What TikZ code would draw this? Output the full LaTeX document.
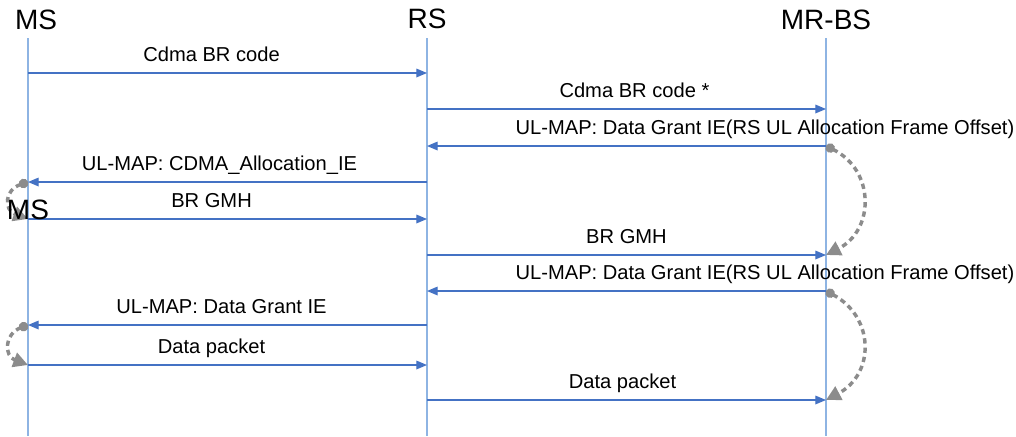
\documentclass[tikz,border=0pt]{standalone}
\usepackage{fontspec}
\setmainfont{Liberation Sans}
\usetikzlibrary{arrows.meta,positioning}
\definecolor{lifeblue}{RGB}{142,180,227}
\definecolor{msgblue}{RGB}{68,114,196}
\definecolor{hopgray}{RGB}{140,140,140}

\begin{document}
\begin{tikzpicture}[x=0.75pt,y=-0.75pt,
  font=\fontsize{15.1}{18}\selectfont,
  life/.style={lifeblue,line width=1pt},
  msg/.style={msgblue,line width=0.9pt,-{Triangle[length=8pt,width=6.5pt]}},
  lbl/.style={anchor=base,yshift=9pt,inner sep=0pt,text=black},
  hop/.style={hopgray,line width=2.6pt,dash pattern=on 4pt off 3pt,
    {Circle[length=7pt]}-{Triangle[length=11pt,width=11pt]}},
  head/.style={font=\fontsize{21}{24}\selectfont,inner sep=0pt}]
    \useasboundingbox (0,0) rectangle (1016,436);

    % Entities
    \node[head] (ms) at (36,20) {MS};
    \node[head] (rs) at (427,19) {RS};
    \node[head] (bs) at (826,20) {MR-BS};

    % Lifelines and message points
    \foreach \n/\x in {ms/28,rs/427,bs/826}{
      \coordinate (\n top) at (\x,38);
      \coordinate (\n bot) at (\x,436);
      \draw[life] (\n top) -- (\n bot);
      \foreach \i/\y in {1/73,2/109,3/146,4/182,5/219,6/255,7/291,8/325,9/365,10/400}
        \coordinate (\n\i) at (\x,\y);
    }

    % Relay delays
    \draw[hop] (bs3) .. controls +(49,24) and +(49,-25) .. (bs6);
    \draw[hop] (bs7) .. controls +(49,26) and +(49,-26) .. (bs10);
    \draw[hop] (ms4) .. controls +(-24,8) and +(-24,-9) .. (ms5);
    \draw[hop] (ms8) .. controls +(-24,9) and +(-24,-9) .. (ms9);

    % Messages
    \draw[msg] (ms1) -- (rs1) node[lbl,pos=.46] {Cdma BR code};
    \draw[msg] (rs2) -- (bs2) node[lbl,pos=.52] {Cdma BR code *};
    \draw[msg] (bs3) -- (rs3) node[lbl,pos=.153] {UL-MAP: Data Grant IE(RS UL Allocation Frame Offset)};
    \draw[msg] (rs4) -- (ms4) node[lbl,pos=.52] {UL-MAP: CDMA\_Allocation\_IE};
    \draw[msg] (ms5) -- (rs5) node[lbl,pos=.46] {BR GMH};
    \draw[msg] (rs6) -- (bs6) node[lbl,pos=.5] {BR GMH};
    \draw[msg] (bs7) -- (rs7) node[lbl,pos=.153] {UL-MAP: Data Grant IE(RS UL Allocation Frame Offset)};
    \draw[msg] (rs8) -- (ms8) node[lbl,pos=.515] {UL-MAP: Data Grant IE};
    \draw[msg] (ms9) -- (rs9) node[lbl,pos=.46] {Data packet};
    \draw[msg] (rs10) -- (bs10) node[lbl,pos=.49] {Data packet};

    \node[head] (ms again) at (28,210) {MS};
\end{tikzpicture}
\end{document}
